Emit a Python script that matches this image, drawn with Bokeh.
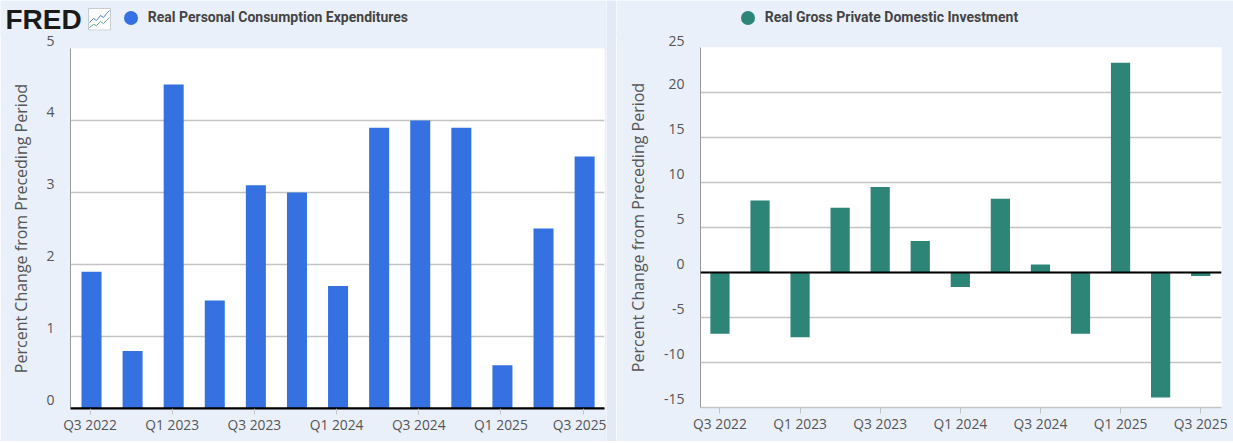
from bokeh.plotting import figure
from bokeh.layouts import row, column
from bokeh.embed import file_html
from bokeh.resources import INLINE
from bokeh.models import (ColumnDataSource, FixedTicker, Range1d, Legend, LegendItem, Label, Span)
from bokeh.transform import dodge

quarters = ["Q3 2022", "Q4 2022", "Q1 2023", "Q2 2023", "Q3 2023", "Q4 2023", "Q1 2024",
            "Q2 2024", "Q3 2024", "Q4 2024", "Q1 2025", "Q2 2025", "Q3 2025"]
consumption = [1.9, 0.8, 4.5, 1.5, 3.1, 3.0, 1.7, 3.9, 4.0, 3.9, 0.6, 2.5, 3.5]
investment = [-6.8, 8.0, -7.2, 7.2, 9.5, 3.5, -1.6, 8.2, 0.9, -6.8, 23.3, -13.9, -0.4]
y_ticks_left = [0, 1, 2, 3, 4, 5]
y_ticks_right = [-15, -10, -5, 0, 5, 10, 15, 20, 25]
x_tick_idx = [0, 2, 4, 6, 8, 10, 12]
BG = "#e9f0fa"
INK = "#555555"
GRID = "#c4c4c4"
TICK_FONT = "Open Sans"
STRIP_H = 36
OVERLAP = 6
CHART_TOP = STRIP_H - OVERLAP


def strip(width, color, name, leg_x):
    s = figure(width=width, height=STRIP_H, output_backend="svg", toolbar_location=None,
               x_range=Range1d(0, width), y_range=Range1d(STRIP_H, 0),
               x_axis_type=None, y_axis_type=None, background_fill_color=BG, border_fill_color=BG,
               min_border=0, margin=(0, 0, -OVERLAP, 0), frame_align=False)
    s.grid.visible = False
    s.outline_line_color = None
    dot = s.scatter(x=[float("nan")], y=[float("nan")], size=14, marker="circle",
                    fill_color=color, line_color=None)
    # a legend draws its circle at 0.4 of the glyph box, so 35 gives a 14px dot
    leg = Legend(items=[LegendItem(label=name, renderers=[dot])], location=(leg_x, 1.5),
                 orientation="horizontal", background_fill_alpha=0, border_line_color=None,
                 label_text_font="Roboto", label_text_font_style="bold", label_text_font_size="14px",
                 label_text_color="#444444", glyph_width=35, glyph_height=35, label_standoff=0,
                 margin=0, padding=0)
    s.add_layout(leg, "center")
    return s


def panel(values, color, yticks, ymin, ymax, width, left, right, top, bottom, x_rng,
          shift, bar_w, title_standoff):
    p = figure(width=width, height=441 - CHART_TOP, output_backend="svg", toolbar_location=None,
               x_range=Range1d(*x_rng), y_range=Range1d(ymin, ymax),
               background_fill_color="white", border_fill_color=BG,
               min_border_left=left, min_border_right=right, min_border_top=top, min_border_bottom=bottom,
               margin=(0, 0, 0, 0), frame_align=False)
    src = ColumnDataSource(dict(x=list(range(len(values))), v=values, q=quarters))
    p.vbar(x=dodge("x", shift, range=p.x_range), top="v", bottom=0, width=bar_w, source=src,
           fill_color=color, line_color=None)

    p.xaxis.ticker = FixedTicker(ticks=x_tick_idx)
    p.xaxis.major_label_overrides = {i: quarters[i] for i in x_tick_idx}
    p.xaxis.major_label_text_font = TICK_FONT
    p.xaxis.major_label_text_font_size = "13.8px"
    p.xaxis.major_label_text_color = INK
    p.xaxis.major_tick_in = 0
    p.xaxis.major_tick_out = 6
    p.xaxis.major_tick_line_color = GRID
    p.xaxis.minor_tick_line_color = None
    p.xaxis.axis_line_color = GRID
    p.xaxis.axis_line_width = 1.5
    p.xaxis.major_label_standoff = 0

    p.yaxis.ticker = FixedTicker(ticks=yticks)
    # trailing newline lifts each label above its gridline, as in the reference
    p.yaxis.major_label_overrides = {t: f"{t}\n" for t in yticks}
    p.yaxis.major_label_text_font = TICK_FONT
    p.yaxis.major_label_text_font_size = "14px"
    p.yaxis.major_label_text_line_height = 1.0
    p.yaxis.major_label_text_color = INK
    p.yaxis.major_tick_line_color = None
    p.yaxis.minor_tick_line_color = None
    p.yaxis.axis_line_color = "#999999"
    p.yaxis.axis_line_width = 1
    p.yaxis.major_label_standoff = 10
    p.yaxis.axis_label = "Percent Change from Preceding Period"
    p.yaxis.axis_label_text_font = TICK_FONT
    p.yaxis.axis_label_text_font_style = "normal"
    p.yaxis.axis_label_text_font_size = "16px"
    p.yaxis.axis_label_text_color = INK
    p.yaxis.axis_label_standoff = title_standoff

    p.xgrid.visible = False
    p.ygrid.ticker = FixedTicker(ticks=yticks)
    p.ygrid.grid_line_color = GRID
    p.ygrid.grid_line_width = 1.5
    p.outline_line_color = None
    p.add_layout(Span(location=0, dimension="width", line_color="black", line_width=2))
    return p


left_strip = strip(606, "#3571e0", "Real Personal Consumption Expenditures", 112.8)
right_strip = strip(617, "#2d8577", "Real Gross Private Domestic Investment", 113.8)

# FRED logo and its little icon
left_strip.add_layout(Label(x=5, y=18.5, text="FRED", text_font="Liberation Sans", text_font_style="bold",
                            text_font_size="28px", text_color="#1a1a1a", text_baseline="middle"))
left_strip.quad(left=88, right=110, top=8, bottom=29.5, fill_color="#ffffff", line_color="#c8ccd0", line_width=1)
left_strip.line(x=[89, 93, 96, 100, 103, 106, 109], y=[22, 18, 20, 15, 17, 13, 10], line_color="#4a7fd6", line_width=1)
left_strip.line(x=[89, 93, 96, 100, 103, 106, 109], y=[27, 24, 25, 21, 23, 20, 17], line_color="#5aa68f", line_width=1)

left = panel(consumption, "#3571e0", y_ticks_left, 0, 5,
             606, 70, 2, 48 - CHART_TOP, 33, (-0.475, 12.52), 0.036, 0.487, 11)
# in the left chart the zero line is the bottom edge, so the axis line itself is black
left.xaxis.axis_line_color = "black"
left.xaxis.axis_line_width = 2
right = panel(investment, "#2d8577", y_ticks_right, -15, 25,
              617, 84, 12, 47 - CHART_TOP, 34, (-0.486, 12.52), 0.0, 0.48, 12)

spacer = figure(width=10, height=441, output_backend="svg", toolbar_location=None,
                x_axis_type=None, y_axis_type=None, background_fill_color="#e3eaf5",
                border_fill_color="#e3eaf5", min_border=0, margin=(0, 0, 0, 0),
                x_range=Range1d(0, 1), y_range=Range1d(0, 1), frame_align=False)
spacer.grid.visible = False
spacer.outline_line_color = None

page = row(column(left_strip, left, spacing=0), spacer, column(right_strip, right, spacing=0), spacing=0)
open("out.html", "w").write(file_html(page, INLINE))
